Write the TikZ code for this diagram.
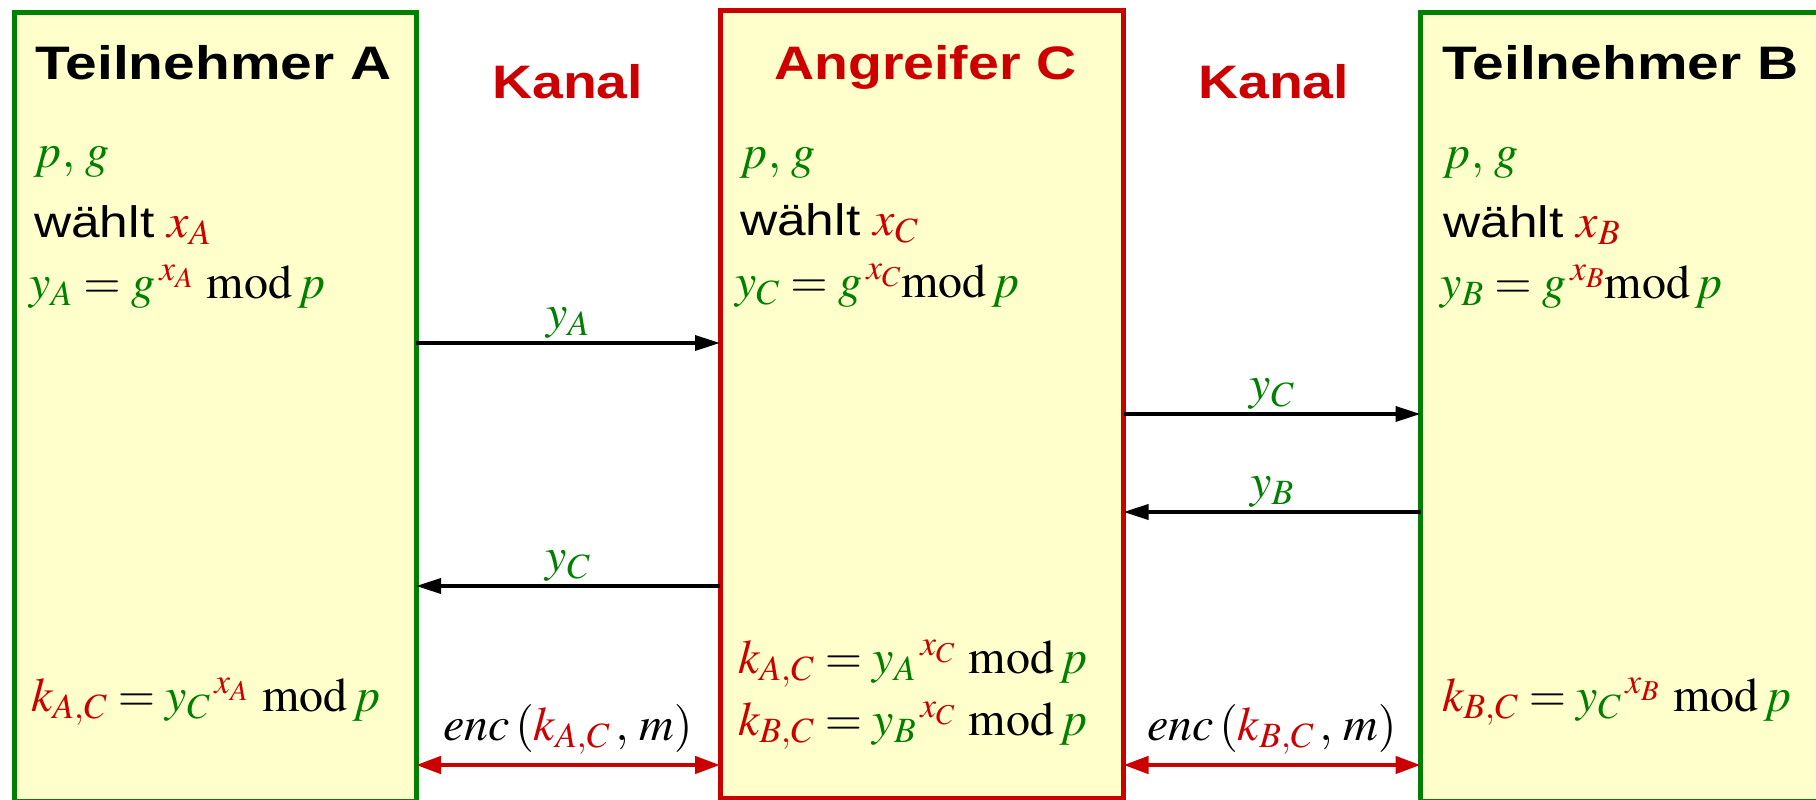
\documentclass[tikz,border=0pt]{standalone}
\usepackage{mathptmx}
\usepackage[no-math]{fontspec}
\setmainfont{Liberation Sans}
\usepackage{graphicx}
\usetikzlibrary{arrows.meta}
\definecolor{dgreen}{RGB}{0,128,0}
\definecolor{dred}{RGB}{204,0,0}
\definecolor{boxfill}{RGB}{255,255,204}
\newcommand\G[1]{{\color{dgreen}#1}}
\newcommand\R[1]{{\color{dred}#1}}
\newcommand\md{\mathrm{mod}}
\newcommand\wide[1]{\scalebox{1.18}[1]{#1}}
\newcommand\wider[1]{\scalebox{1.21}[1]{#1}}
\newcommand\waehlt{\scalebox{1.17}[1]{\fontsize{44}{52}\selectfont wählt}}
\tikzset{
  party/.style={draw=dgreen, fill=boxfill, line width=5pt, anchor=north west, outer sep=0pt, inner sep=0pt},
  attacker/.style={draw=dred, fill=boxfill, line width=5pt, anchor=north west, outer sep=0pt, inner sep=0pt},
  ttl/.style={anchor=base west, inner sep=0pt, font=\fontsize{47}{56}\selectfont\bfseries},
  kanal/.style={ttl, text=dred},
  mtext/.style={anchor=base west, inner sep=0pt, font=\fontsize{48}{58}\selectfont},
  lbl/.style={anchor=base, inner sep=0pt, yshift=15pt, font=\fontsize{48}{58}\selectfont},
  msg/.style={draw=black, line width=3.5pt, -{Triangle[length=25pt,width=15pt]}},
  encarr/.style={draw=dred, line width=4.5pt, {Triangle[length=25pt,width=17pt]}-{Triangle[length=25pt,width=17pt]}},
}
\begin{document}
\begin{tikzpicture}[x=1pt,y=-1pt]
\useasboundingbox (0,0) rectangle (1816,800);
\clip (0,0) rectangle (1816,800);
% boxes
\node[party, minimum width=401.5pt, minimum height=789pt] (A) at (14.5,12.5) {};
\node[attacker, minimum width=403.5pt, minimum height=787.5pt] (C) at (720,10.5) {};
\node[party, minimum width=400pt, minimum height=789pt] (B) at (1420.5,12.5) {};
% titles
\node[ttl] (tA) at (35,80) {\wider{Teilnehmer A}};
\node[ttl, text=dred] (tC) at (774,80) {\wide{Angreifer C}};
\node[ttl] (tB) at (1442,80) {\wider{Teilnehmer B}};
\node[kanal] (k1) at (492,99) {\wide{Kanal}};
\node[kanal] (k2) at (1198,99) {\wide{Kanal}};
% box A
\node[mtext] (a1) at (34,167) {$\G{p,\,g}$};
\node[mtext] (a2) at (34,237) {\waehlt\ $\R{x_A}$};
\node[mtext] (a3) at (29,298) {$\G{y_A}=\G{g}^{\,\R{x_A}}\ \md\,\G{p}$};
\node[mtext] (a4) at (31,711) {$\R{k_{A,C}}=\G{y_C}^{\,\R{x_A}}\ \md\,\G{p}$};
% box C
\node[mtext] (c1) at (740,168) {$\G{p,\,g}$};
\node[mtext] (c2) at (740,235) {\waehlt\ $\R{x_C}$};
\node[mtext] (c3) at (735,297) {$\G{y_C}=\G{g}^{\,\R{x_C}}\md\,\G{p}$};
\node[mtext] (c4) at (738,673) {$\R{k_{A,C}}=\G{y_A}^{\,\R{x_C}}\ \md\,\G{p}$};
\node[mtext] (c5) at (738,735) {$\R{k_{B,C}}=\G{y_B}^{\,\R{x_C}}\ \md\,\G{p}$};
% box B
\node[mtext] (b1) at (1443,168) {$\G{p,\,g}$};
\node[mtext] (b2) at (1443,237) {\waehlt\ $\R{x_B}$};
\node[mtext] (b3) at (1440,298) {$\G{y_B}=\G{g}^{\,\R{x_B}}\md\,\G{p}$};
\node[mtext] (b4) at (1442,711) {$\R{k_{B,C}}=\G{y_C}^{\,\R{x_B}}\ \md\,\G{p}$};
% messages
\draw[msg] (A.north east |- 0,343) -- node[lbl] {$\G{y_A}$} (C.north west |- 0,343);
\draw[msg] (C.north east |- 0,414) -- node[lbl] {$\G{y_C}$} (B.north west |- 0,414);
\draw[msg] (B.north west |- 0,512) -- node[lbl] {$\G{y_B}$} (C.north east |- 0,512);
\draw[msg] (C.north west |- 0,586) -- node[lbl] {$\G{y_C}$} (A.north east |- 0,586);
\draw[encarr] (A.north east |- 0,765) -- node[lbl, yshift=10pt] {$enc\,(\R{k_{A,C}}\,,\,m)$} (C.north west |- 0,765);
\draw[encarr] (C.north east |- 0,765) -- node[lbl, yshift=10pt] {$enc\,(\R{k_{B,C}}\,,\,m)$} (B.north west |- 0,765);
\end{tikzpicture}
\end{document}
